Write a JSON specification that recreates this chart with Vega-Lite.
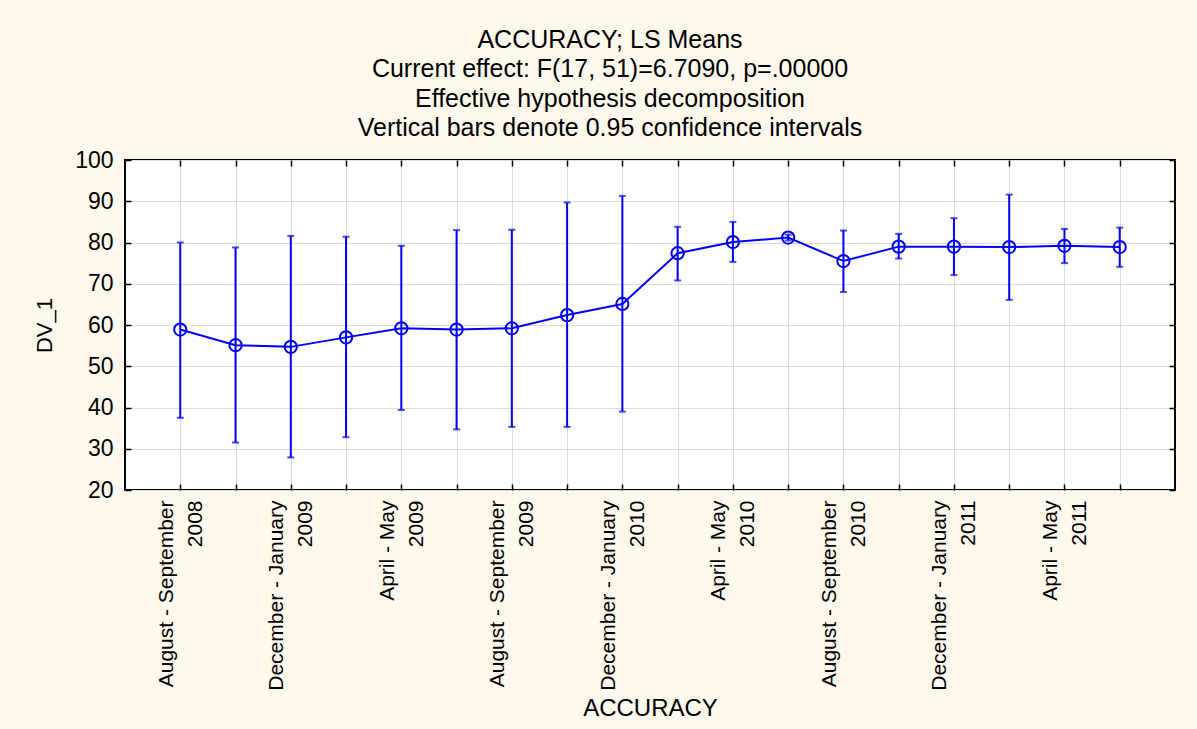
{
  "$schema": "https://vega.github.io/schema/vega-lite/v6.json",
  "autosize": {"type": "none"},
  "width": 1050,
  "height": 330,
  "padding": {"left": 125, "top": 160, "right": 22, "bottom": 239},
  "background": "#FFF9ED",
  "config": {
    "font": "Liberation Sans",
    "view": {"fill": "white", "stroke": "black", "strokeWidth": 2},
    "axis": {
      "labelFont": "Liberation Sans",
      "titleFont": "Liberation Sans",
      "labelColor": "black",
      "titleColor": "black",
      "titleFontWeight": "normal",
      "gridColor": "#DCDCDC",
      "gridWidth": 1,
      "tickColor": "black",
      "tickWidth": 1.5,
      "domain": false
    }
  },
  "title": {
    "text": ["ACCURACY; LS Means", "Current effect: F(17, 51)=6.7090, p=.00000", "Effective hypothesis decomposition", "Vertical bars denote 0.95 confidence intervals"],
    "fontSize": 25,
    "fontWeight": "normal",
    "font": "Liberation Sans",
    "color": "black",
    "lineHeight": 29.5,
    "offset": 8,
    "anchor": "middle",
    "frame": "group",
    "dx": -40
  },
  "data": {
    "values": [
      {"period": "August - September|2008", "mean": 58.9, "lo": 37.5, "hi": 80.0},
      {"period": "October - November|2008", "mean": 55.1, "lo": 31.5, "hi": 78.8},
      {"period": "December - January|2009", "mean": 54.7, "lo": 27.9, "hi": 81.6},
      {"period": "February - March|2009", "mean": 57.0, "lo": 32.8, "hi": 81.4},
      {"period": "April - May|2009", "mean": 59.2, "lo": 39.4, "hi": 79.2},
      {"period": "June - July|2009", "mean": 58.9, "lo": 34.7, "hi": 83.0},
      {"period": "August - September|2009", "mean": 59.2, "lo": 35.3, "hi": 83.1},
      {"period": "October - November|2009", "mean": 62.4, "lo": 35.3, "hi": 89.7},
      {"period": "December - January|2010", "mean": 65.1, "lo": 39.0, "hi": 91.3},
      {"period": "February - March|2010", "mean": 77.4, "lo": 70.8, "hi": 83.8},
      {"period": "April - May|2010", "mean": 80.1, "lo": 75.3, "hi": 85.0},
      {"period": "June - July|2010", "mean": 81.2, "lo": 80.5, "hi": 81.9},
      {"period": "August - September|2010", "mean": 75.5, "lo": 68.0, "hi": 82.9},
      {"period": "October - November|2010", "mean": 79.0, "lo": 76.1, "hi": 82.1},
      {"period": "December - January|2011", "mean": 79.0, "lo": 72.1, "hi": 85.9},
      {"period": "February - March|2011", "mean": 78.9, "lo": 66.1, "hi": 91.6},
      {"period": "April - May|2011", "mean": 79.2, "lo": 75.0, "hi": 83.3},
      {"period": "June - July|2011", "mean": 78.9, "lo": 74.1, "hi": 83.6}
    ]
  },
  "layer": [
    {
      "mark": {"type": "rule", "color": "#0000FF", "strokeWidth": 2},
      "encoding": {
        "x": {
          "field": "period", "type": "ordinal", "sort": null,
          "scale": {"type": "point", "padding": 1},
          "axis": {
            "orient": "bottom",
            "title": "ACCURACY",
            "titleFontSize": 24,
            "titlePadding": 6,
            "labelAngle": 270,
            "labelAlign": "right",
            "labelBaseline": "middle",
            "labelFontSize": 21,
            "labelLineHeight": 29,
            "labelPadding": 16,
            "labelOffset": -14,
            "labelLimit": 0,
            "tickSize": -6,
            "labelExpr": "test(/^(August|December|April)/, datum.value) ? split(datum.value, '|') : ''",
            "labelOverlap": false,
            "grid": true
          }
        },
        "y": {
          "field": "lo", "type": "quantitative",
          "scale": {"domain": [20, 100], "nice": false, "zero": false},
          "axis": {
            "orient": "left",
            "title": "DV_1",
            "titleFontSize": 22,
            "titlePadding": 18,
            "values": [20, 30, 40, 50, 60, 70, 80, 90, 100],
            "labelFontSize": 23,
            "labelPadding": 18,
            "tickSize": -6,
            "grid": true
          }
        },
        "y2": {"field": "hi"}
      }
    },
    {
      "mark": {"type": "tick", "color": "#0000FF", "orient": "horizontal", "size": 7, "thickness": 2},
      "encoding": {
        "x": {"field": "period", "type": "ordinal", "sort": null,
          "axis": {"orient": "top", "labels": false, "title": null, "tickSize": -6, "grid": false}},
        "y": {"field": "hi", "type": "quantitative",
          "axis": {"orient": "right", "labels": false, "title": null, "tickSize": -6, "grid": false,
            "values": [20, 30, 40, 50, 60, 70, 80, 90, 100]}}
      }
    },
    {
      "mark": {"type": "tick", "color": "#0000FF", "orient": "horizontal", "size": 7, "thickness": 2},
      "encoding": {
        "x": {"field": "period", "type": "ordinal", "sort": null, "axis": null},
        "y": {"field": "lo", "type": "quantitative", "axis": null}
      }
    },
    {
      "mark": {"type": "line", "color": "#0000FF", "strokeWidth": 2},
      "encoding": {
        "x": {"field": "period", "type": "ordinal", "sort": null, "axis": null},
        "y": {"field": "mean", "type": "quantitative", "axis": null}
      }
    },
    {
      "mark": {"type": "point", "shape": "circle", "filled": false, "color": "#0000FF", "strokeWidth": 2, "size": 150, "opacity": 1},
      "encoding": {
        "x": {"field": "period", "type": "ordinal", "sort": null, "axis": null},
        "y": {"field": "mean", "type": "quantitative", "axis": null}
      }
    }
  ]
}
